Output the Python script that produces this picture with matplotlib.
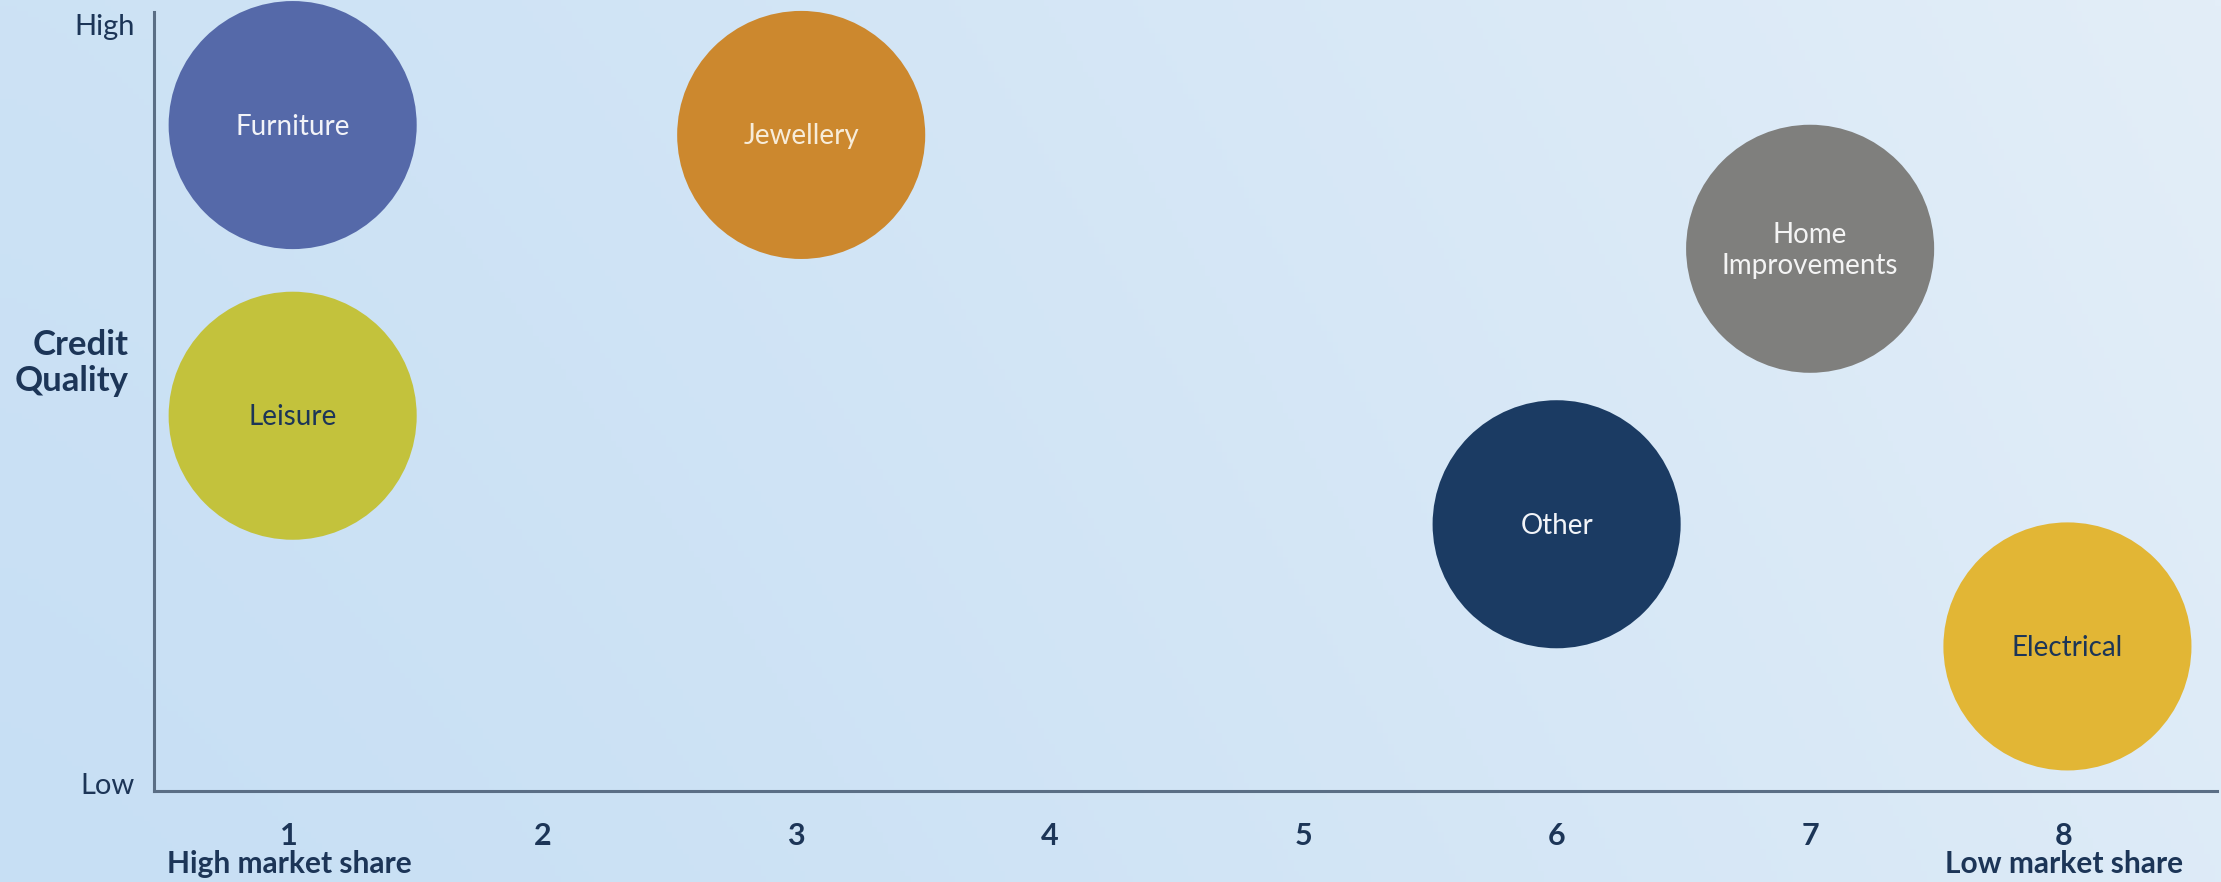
import numpy as np
import matplotlib
matplotlib.use("Agg")
import matplotlib.pyplot as plt
import matplotlib.transforms as mtransforms

plt.rcParams['font.family'] = ['Lato', 'DejaVu Sans']

# ---- data ----
categories = ["Furniture", "Leisure", "Jewellery", "Home\nImprovements", "Other", "Electrical"]
market_share_rank = [1.014, 1.014, 3.02, 7.0, 6.0, 8.015]
credit_quality = [8.67, 4.84, 8.54, 7.04, 3.41, 1.80]
bubble_sizes = [31900, 31900, 31900, 31900, 31900, 31900]
bubble_colors = ["#5569a9", "#c3c23c", "#cc882e", "#7f7f7d", "#1b3b63", "#e2b635"]
label_colors = ["#f2f3f8", "#1c3557", "#f7ecd9", "#f4f4f4", "#f2f4f8", "#1c3557"]
x_ticks = [1, 2, 3, 4, 5, 6, 7, 8]
x_tick_labels = ["1", "2", "3", "4", "5", "6", "7", "8"]
y_ticks = [0, 10]
y_tick_labels = ["Low", "High"]

navy = "#1c3557"
axis_col = "#5a6e85"

W, H = 2221, 882
fig = plt.figure(figsize=(W / 100, H / 100), dpi=100)

# background gradient
bg = fig.add_axes([0, 0, 1, 1], zorder=-10)
nx, ny = 400, 160
xx = np.linspace(0, 1, nx)[None, :]
yy = np.linspace(0, 1, ny)[:, None]
t = np.clip(0.8 * xx ** 1.3 + 0.2 * yy, 0, 1)
c0 = np.array([199, 223, 244]) / 255.0
c1 = np.array([227, 238, 248]) / 255.0
img = c0[None, None, :] * (1 - t[..., None]) + c1[None, None, :] * t[..., None]
bg.imshow(img, aspect='auto', extent=[0, 1, 0, 1], origin='lower')
bg.set_axis_off()

ax = fig.add_axes([154 / W, 1 - 791 / H, (2217 - 154) / W, (791 - 12) / H])
ax.patch.set_alpha(0)
ax.set_xlim(0.467, 8.605)
ax.set_ylim(-0.105, 10.16)

ax.scatter(market_share_rank, credit_quality, s=bubble_sizes, c=bubble_colors,
           edgecolors='none', zorder=3, clip_on=False)
for x, y, lab, lc in zip(market_share_rank, credit_quality, categories, label_colors):
    ax.text(x, y - 0.02, lab, ha='center', va='center', fontsize=20, color=lc,
            zorder=4, linespacing=1.25)

for side in ['top', 'right']:
    ax.spines[side].set_visible(False)
for side in ['left', 'bottom']:
    ax.spines[side].set_color(axis_col)
    ax.spines[side].set_linewidth(2.2)

ax.set_xticks(x_ticks)
ax.set_xticklabels(x_tick_labels, fontsize=22, fontweight='bold', color=navy)
ax.set_yticks(y_ticks)
ax.set_yticklabels(y_tick_labels, fontsize=21, color=navy)
ax.tick_params(axis='x', length=0, pad=22)
ax.tick_params(axis='y', length=0, pad=14)

trans = mtransforms.blended_transform_factory(ax.transData, fig.transFigure)
ax.text(1, 1 - 864 / H, "High market share", transform=trans, ha='center', va='center',
        fontsize=21.5, fontweight='bold', color=navy)
ax.text(8, 1 - 864 / H, "Low market share", transform=trans, ha='center', va='center',
        fontsize=21.5, fontweight='bold', color=navy)

fig.text(129 / W, 1 - 363 / H, "Credit\nQuality", ha='right', va='center',
         fontsize=25, fontweight='bold', color=navy, linespacing=1.15, multialignment='right')

fig.savefig("out.png", dpi=100)
